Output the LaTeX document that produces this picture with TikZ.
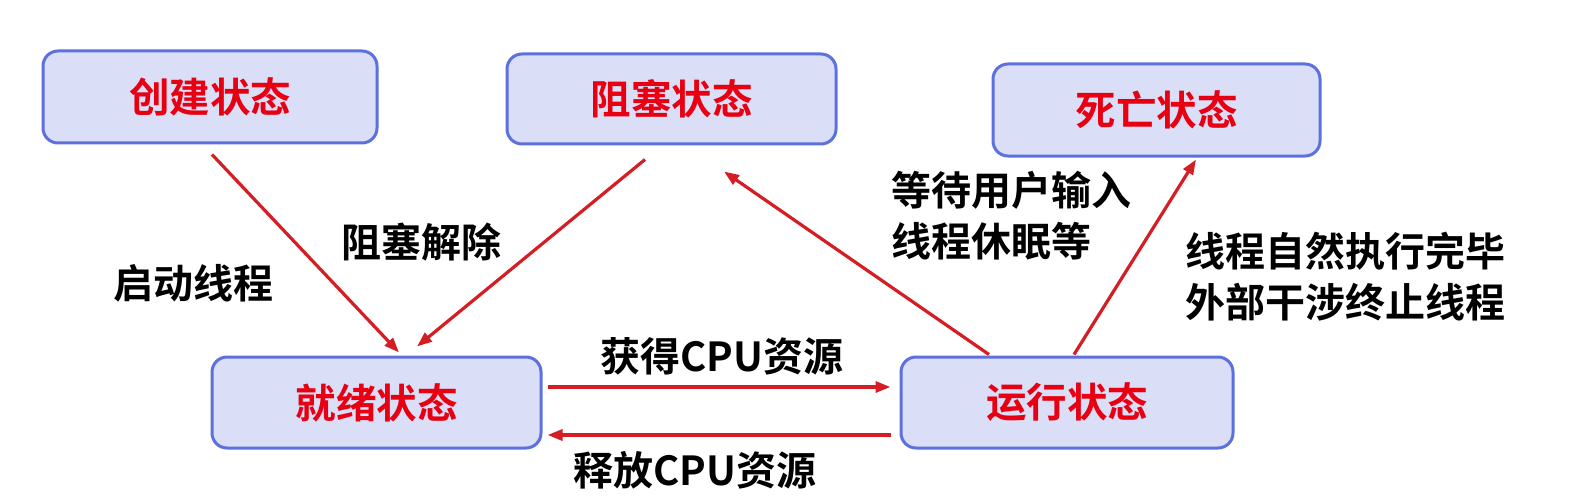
\documentclass[tikz,border=0pt]{standalone}
\usepackage{fontspec}
\newfontfamily\cjk{Noto Sans CJK SC}[BoldFont={Noto Sans CJK SC Bold}]
\usetikzlibrary{arrows.meta,calc}
\definecolor{boxfill}{RGB}{218,222,247}
\definecolor{boxline}{RGB}{92,112,222}
\definecolor{statered}{RGB}{232,0,18}
\definecolor{arrowred}{RGB}{212,30,36}
\tikzset{
  statebox/.style={draw=boxline, line width=3pt, fill=boxfill, rounded corners=15pt,
    inner sep=0pt, font=\cjk\bfseries\fontsize{40.5}{48}\selectfont, text=statered},
  lbl/.style={font=\cjk\bfseries\fontsize{40}{51}\selectfont, text=black, inner sep=0pt},
  conn/.style={draw=arrowred, line width=3.2pt, -{Triangle[length=15pt,width=11pt]}},
}
\begin{document}
\begin{tikzpicture}[x=1pt,y=-1pt]
\useasboundingbox (0,0) rectangle (1595,500);
\node[statebox, minimum width=334pt, minimum height=92pt] (cj) at (210,97) {创建状态};
\node[statebox, minimum width=329pt, minimum height=90pt] (zs) at (671.5,99) {阻塞状态};
\node[statebox, minimum width=327pt, minimum height=92pt] (sw) at (1156.5,110) {死亡状态};
\node[statebox, minimum width=329pt, minimum height=91pt] (jx) at (376.5,402.5) {就绪状态};
\node[statebox, minimum width=332pt, minimum height=91pt] (yx) at (1067,402.5) {运行状态};

\draw[conn] ($(cj.south)+(2,10)$) -- ($(jx.north)+(22.5,-3)$);
\draw[conn] ($(zs.south)+(-26.5,14)$) -- ($(jx.north)+(40.5,-9)$);
\draw[conn] ($(yx.north)+(-78,-1)$) -- ($(zs.south)+(52.5,26)$);
\draw[conn] ($(yx.north)+(7,-1)$) -- ($(sw.south)+(39.5,2)$);
\draw[conn] ($(jx.east)+(5,-15.5)$) -- ($(yx.west)+(-9,-15.5)$);
\draw[conn] ($(yx.west)+(-9,32.5)$) -- ($(jx.east)+(5,32.5)$);

\node[lbl] (l1) at (193,283) {启动线程};
\node[lbl] (l2) at (421,242) {阻塞解除};
\node[lbl, anchor=west, align=left] (l3) at (891,215.5) {等待用户输入\\线程休眠等};
\node[lbl, anchor=west, align=left] (l4) at (1185,276.5) {线程自然执行完毕\\外部干涉终止线程};
\node[lbl] (l5) at (722,356) {获得CPU资源};
\node[lbl] (l6) at (695,470) {释放CPU资源};
\end{tikzpicture}
\end{document}
